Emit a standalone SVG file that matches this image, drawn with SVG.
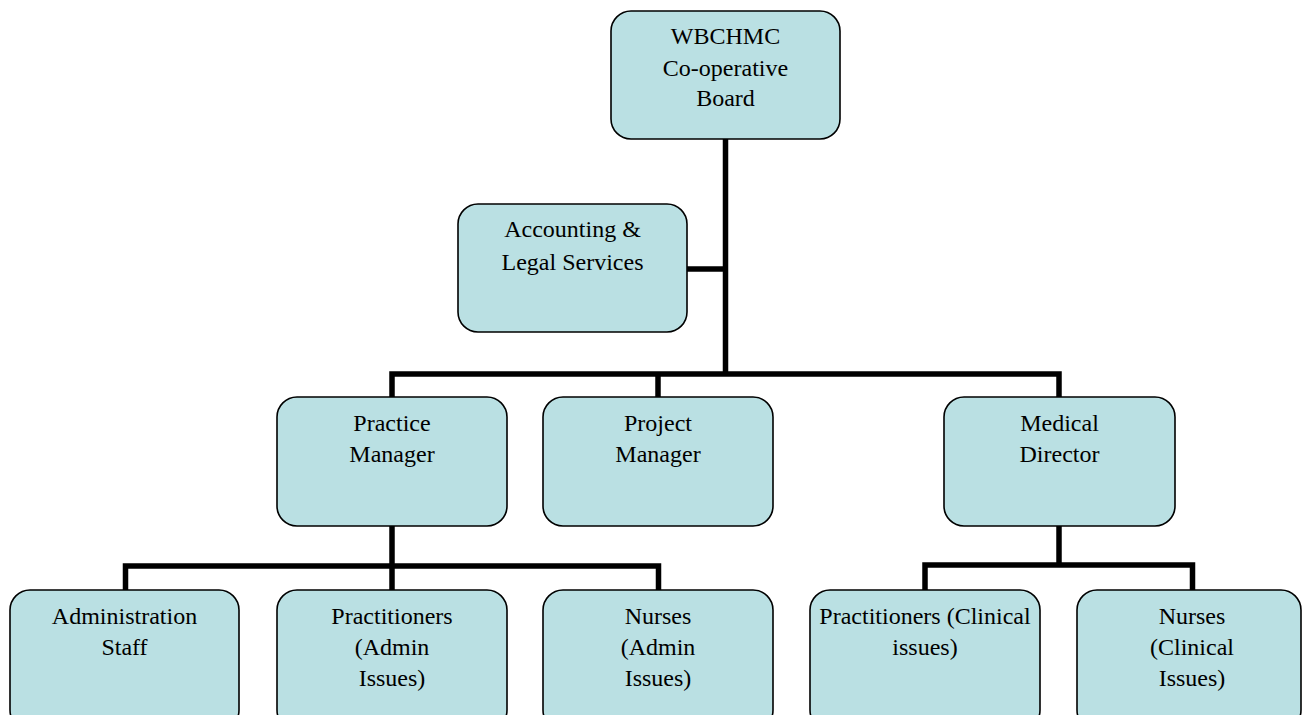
<svg xmlns="http://www.w3.org/2000/svg" width="1306" height="715" viewBox="0 0 1306 715">
<style>
.box{fill:#BAE0E3;stroke:#000;stroke-width:1.6}
.t{font-family:"Liberation Serif",serif;font-size:24px;fill:#000;text-anchor:middle}
.c{fill:none;stroke:#000;stroke-width:5.5;stroke-linecap:butt;stroke-linejoin:miter}
</style>
<rect width="1306" height="715" fill="#fff"/>
<g id="connectors">
<path class="c" d="M725.5 139 V374"/>
<path class="c" d="M687 269 H728"/>
<path class="c" d="M392 397 V374 H1059 V397"/>
<path class="c" d="M658 374 V397"/>
<path class="c" d="M392 526 V566"/>
<path class="c" d="M125.5 590 V566 H658.5 V590"/>
<path class="c" d="M392 566 V590"/>
<path class="c" d="M1059 526 V565"/>
<path class="c" d="M925 590 V565 H1192.5 V590"/>
</g>
<g id="board">
<rect class="box" x="611" y="11" width="229" height="128" rx="20"/>
<text class="t" x="725.5" y="44">WBCHMC</text>
<text class="t" x="725.5" y="76">Co-operative</text>
<text class="t" x="725.5" y="106">Board</text>
</g>
<g id="accounting">
<rect class="box" x="458" y="204" width="229" height="128" rx="20"/>
<text class="t" x="572.5" y="237">Accounting &amp;</text>
<text class="t" x="572.5" y="270">Legal Services</text>
</g>
<g id="practice-manager">
<rect class="box" x="277" y="397" width="230" height="129" rx="20"/>
<text class="t" x="392" y="431">Practice</text>
<text class="t" x="392" y="462">Manager</text>
</g>
<g id="project-manager">
<rect class="box" x="543" y="397" width="230" height="129" rx="20"/>
<text class="t" x="658" y="431">Project</text>
<text class="t" x="658" y="462">Manager</text>
</g>
<g id="medical-director">
<rect class="box" x="944" y="397" width="231" height="129" rx="20"/>
<text class="t" x="1059.5" y="431">Medical</text>
<text class="t" x="1059.5" y="462">Director</text>
</g>
<g id="admin-staff">
<rect class="box" x="10" y="590" width="229" height="140" rx="20"/>
<text class="t" x="124.5" y="624">Administration</text>
<text class="t" x="124.5" y="655">Staff</text>
</g>
<g id="practitioners-admin">
<rect class="box" x="277" y="590" width="230" height="140" rx="20"/>
<text class="t" x="392" y="624">Practitioners</text>
<text class="t" x="392" y="655">(Admin</text>
<text class="t" x="392" y="686">Issues)</text>
</g>
<g id="nurses-admin">
<rect class="box" x="543" y="590" width="230" height="140" rx="20"/>
<text class="t" x="658" y="624">Nurses</text>
<text class="t" x="658" y="655">(Admin</text>
<text class="t" x="658" y="686">Issues)</text>
</g>
<g id="practitioners-clinical">
<rect class="box" x="810" y="590" width="230" height="140" rx="20"/>
<text class="t" x="925" y="624">Practitioners (Clinical</text>
<text class="t" x="925" y="655">issues)</text>
</g>
<g id="nurses-clinical">
<rect class="box" x="1077" y="590" width="224" height="140" rx="20"/>
<text class="t" x="1192" y="624">Nurses</text>
<text class="t" x="1192" y="655">(Clinical</text>
<text class="t" x="1192" y="686">Issues)</text>
</g>
</svg>
